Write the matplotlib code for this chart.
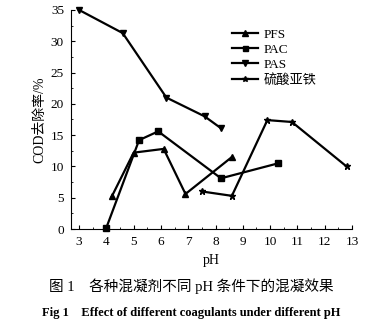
import matplotlib.pyplot as plt
from matplotlib.ticker import MultipleLocator

plt.rcParams['font.family'] = ['Liberation Serif', 'Noto Sans CJK SC']

# values
pfs_ph = [4.2, 5.0, 6.1, 6.9, 8.6]
pfs_cod = [5.2, 12.2, 12.8, 5.6, 11.5]

pac_ph = [4.0, 5.2, 5.9, 8.2, 10.3]
pac_cod = [0.2, 14.2, 15.6, 8.1, 10.5]

pas_ph = [3.0, 4.6, 6.2, 7.6, 8.2]
pas_cod = [35.0, 31.3, 21.0, 18.0, 16.1]

fe_ph = [7.5, 8.6, 9.9, 10.8, 12.8]
fe_cod = [6.0, 5.3, 17.4, 17.1, 10.0]

labels = ['PFS', 'PAC', 'PAS', '硫酸亚铁']
xticks = [3, 4, 5, 6, 7, 8, 9, 10, 11, 12, 13]
yticks = [0, 5, 10, 15, 20, 25, 30, 35]

fig = plt.figure(figsize=(3.83, 3.26), dpi=100)
ax = fig.add_axes([0.185, 0.2975, 0.734, 0.672])

kw = dict(color='black', lw=1.6, clip_on=False)
ax.plot(pfs_ph, pfs_cod, marker='^', ms=5, label=labels[0], **kw)
ax.plot(pac_ph, pac_cod, marker='s', ms=4.5, label=labels[1], **kw)
ax.plot(pas_ph, pas_cod, marker='v', ms=5, label=labels[2], **kw)
ax.plot(fe_ph, fe_cod, marker='*', ms=5, label=labels[3], **kw)

ax.set_xlim(2.7, 13)
ax.set_ylim(0, 35)
ax.set_xticks(xticks)
ax.set_yticks(yticks)
ax.xaxis.set_minor_locator(MultipleLocator(0.5))
ax.yaxis.set_minor_locator(MultipleLocator(2.5))
ax.tick_params(direction='in', which='both', labelsize=9.5)
ax.tick_params(which='major', length=3, pad=5)
ax.tick_params(which='minor', length=1.5)
ax.spines['top'].set_visible(False)
ax.spines['right'].set_visible(False)

ax.set_xlabel('pH', fontsize=10, labelpad=4)
ax.set_ylabel('COD去除率/%', fontsize=10, labelpad=3)

leg = ax.legend(loc='upper left', bbox_to_anchor=(0.53, 0.97), frameon=False,
                fontsize=9.5, handlelength=2.0, handletextpad=0.4, labelspacing=0.22,
                markerscale=0.8)

fig.text(0.5, 0.122, '图 1    各种混凝剂不同 pH 条件下的混凝效果',
         ha='center', va='center', fontsize=10.5)
fig.text(0.5, 0.04, 'Fig 1    Effect of different coagulants under different pH',
         ha='center', va='center', fontsize=9, fontweight='bold')

fig.savefig('out.png', dpi=100)
